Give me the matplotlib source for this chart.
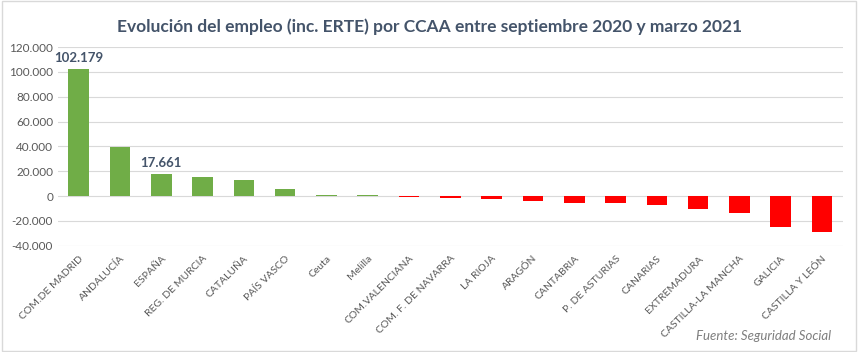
import matplotlib.pyplot as plt
from matplotlib.ticker import FuncFormatter
from matplotlib.patches import Rectangle

plt.rcParams['font.family'] = ['Lato', 'DejaVu Sans']

regiones = ['COM.DE MADRID', 'ANDALUCÍA', 'ESPAÑA', 'REG. DE MURCIA', 'CATALUÑA',
            'PAÍS VASCO', 'Ceuta', 'Melilla', 'COM.VALENCIANA', 'COM. F. DE NAVARRA',
            'LA RIOJA', 'ARAGÓN', 'CANTABRIA', 'P. DE ASTURIAS', 'CANARIAS',
            'EXTREMADURA', 'CASTILLA-LA MANCHA', 'GALICIA', 'CASTILLA Y LEÓN']
empleo = [102179, 39700, 17661, 15300, 12900, 5600, 900, 800, -900, -1200,
          -2000, -4300, -5800, -5900, -6800, -10700, -13400, -25300, -28600]
etiquetas = {0: '102.179', 2: '17.661'}

titulo = 'Evolución del empleo (inc. ERTE) por CCAA entre septiembre 2020 y marzo 2021'
fuente = 'Fuente: Seguridad Social'

fig = plt.figure(figsize=(8.59, 3.52), dpi=100)
ax = fig.add_axes([0.0675, 0.302, 0.9135, 0.564])

colores = ['#70AD47' if v >= 0 else '#FF0000' for v in empleo]
x = range(len(regiones))
ax.bar(x, empleo, width=0.5, color=colores, zorder=3)

for i, txt in etiquetas.items():
    ax.text(i, empleo[i] + 4000, txt, ha='center', va='bottom',
            fontsize=9.5, fontweight='bold', color='#44546A')

ax.set_ylim(-40000, 120000)
ax.set_xlim(-0.5, len(regiones) - 0.5)
ax.set_yticks(range(-40000, 120001, 20000))
ax.yaxis.set_major_formatter(FuncFormatter(lambda v, p: f'{int(v):,}'.replace(',', '.')))
ax.grid(axis='y', color='#D9D9D9', linewidth=0.8, zorder=0)
for s in ax.spines.values():
    s.set_visible(False)
ax.tick_params(length=0, labelsize=8.5, labelcolor='#595959')
ax.set_xticks(list(x))
ax.set_xticklabels(regiones, rotation=45, ha='right', rotation_mode='anchor', fontsize=7.5)
ax.tick_params(axis='x', pad=6)

fig.text(0.5, 0.925, titulo, ha='center', va='center', fontsize=12.5,
         fontweight='bold', color='#44546A')
fig.text(0.968, 0.045, fuente, ha='right', va='center', fontsize=9.5,
         style='italic', color='#7F7F7F')

fig.patches.append(Rectangle((0.002, 0.003), 0.995, 0.993, transform=fig.transFigure,
                             fill=False, edgecolor='#D9D9D9', linewidth=1))

fig.savefig('out.png', dpi=100)
